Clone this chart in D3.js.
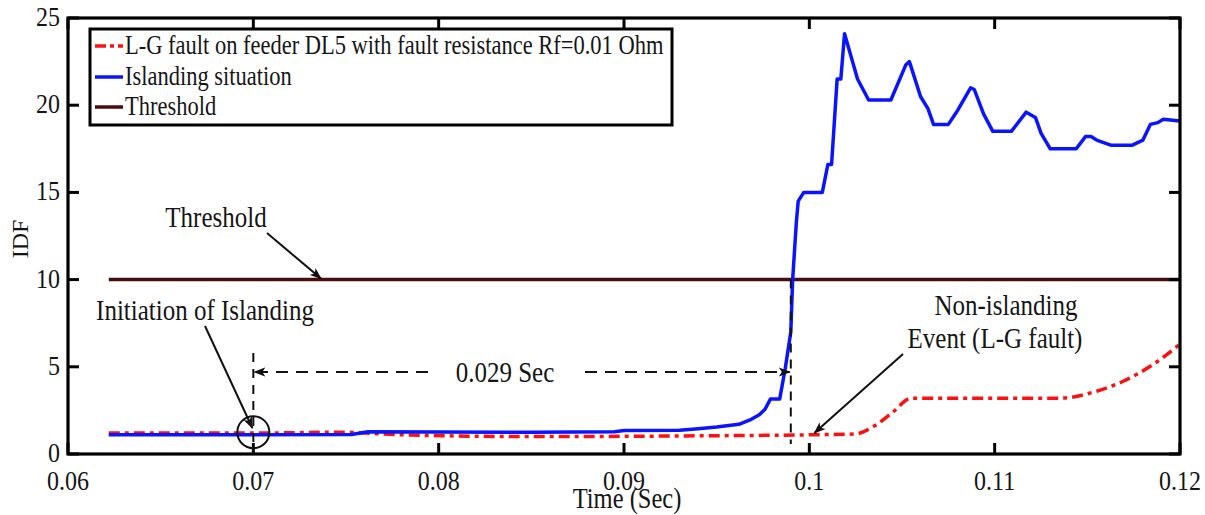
<!DOCTYPE html>
<html>
<head>
<meta charset="utf-8">
<script src="https://cdn.jsdelivr.net/npm/d3@7"></script>
<style>
  html, body { margin: 0; padding: 0; background: #fff; }
  svg { display: block; }
  text { font-family: "Liberation Serif", "Times New Roman", serif; fill: #151515; }
</style>
</head>
<body>
<svg id="chart" width="1205" height="515"></svg>
<script>
// Axis ticks
const xTicks = [0.06, 0.07, 0.08, 0.09, 0.10, 0.11, 0.12];
const xTickLabels = ["0.06", "0.07", "0.08", "0.09", "0.1", "0.11", "0.12"];
const yTicks = [0, 5, 10, 15, 20, 25];

// Islanding situation: IDF over time (s)
const islandTime = [0.0622, 0.0700, 0.0753, 0.0762, 0.0800, 0.0850, 0.0895, 0.0900, 0.0930, 0.0940,
  0.0950, 0.0962, 0.0968, 0.0973, 0.0976, 0.0979, 0.0984, 0.0987, 0.0990, 0.0991,
  0.0993, 0.0994, 0.0997, 0.1007, 0.1010, 0.1012, 0.1015, 0.1017, 0.1019, 0.1026,
  0.1032, 0.1044, 0.1052, 0.1054, 0.1060, 0.1064, 0.1067, 0.1075, 0.1080, 0.1087,
  0.1089, 0.1094, 0.1099, 0.1109, 0.1117, 0.1122, 0.1125, 0.1130, 0.1144, 0.1149,
  0.1152, 0.1155, 0.1163, 0.1174, 0.1180, 0.1184, 0.1188, 0.1191, 0.1200];
const islandIDF = [1.10, 1.10, 1.12, 1.28, 1.26, 1.25, 1.27, 1.35, 1.36, 1.45,
  1.55, 1.70, 1.95, 2.25, 2.55, 3.15, 3.15, 4.9, 7.0, 10.0,
  13.3, 14.5, 15.0, 15.0, 16.6, 16.6, 21.5, 21.5, 24.1, 21.5,
  20.3, 20.3, 22.3, 22.5, 20.5, 19.8, 18.9, 18.9, 19.7, 21.0,
  20.9, 19.5, 18.5, 18.5, 19.6, 19.3, 18.4, 17.5, 17.5, 18.2,
  18.2, 18.0, 17.7, 17.7, 18.0, 18.9, 19.0, 19.2, 19.1];

// L-G fault on feeder DL5 (Rf = 0.01 Ohm): IDF over time (s)
const faultTime = [0.0622, 0.0700, 0.0750, 0.0760, 0.0780, 0.0850, 0.0950, 0.1000, 0.1025,
  0.1035, 0.1045, 0.1055, 0.1100, 0.1135, 0.1155, 0.1170, 0.1185, 0.1200];
const faultIDF = [1.2, 1.2, 1.25, 1.2, 1.1, 1.0, 1.05, 1.1, 1.15,
  1.6, 2.4, 3.2, 3.2, 3.2, 3.6, 4.2, 5.1, 6.3];

// Detection threshold
const thresholdTime = [0.0622, 0.12];
const thresholdIDF = [10, 10];

const legendLabels = [
  "L-G fault on feeder DL5 with fault resistance Rf=0.01 Ohm",
  "Islanding situation",
  "Threshold"
];

// Event instants used by the annotations
const islandingStart = 0.07;
const islandingDetected = 0.099;

const svg = d3.select("#chart");
const plot = { left: 68, right: 1180, top: 18, bottom: 454 };

const x = d3.scaleLinear().domain([0.06, 0.12]).range([plot.left, plot.right]);
const y = d3.scaleLinear().domain([0, 25]).range([plot.bottom, plot.top]);

const TEXT_STRETCH = 1.17;
function label(parent, px, py, str, size, anchor) {
  return parent.append("text")
    .attr("transform", `translate(${px},${py}) scale(1,${TEXT_STRETCH})`)
    .attr("text-anchor", anchor || "start")
    .style("font-size", size + "px")
    .text(str);
}

// Arrow marker
const defs = svg.append("defs");
defs.append("marker")
  .attr("id", "arrow")
  .attr("viewBox", "0 0 12 10")
  .attr("refX", 11).attr("refY", 5)
  .attr("markerWidth", 12).attr("markerHeight", 10)
  .attr("markerUnits", "userSpaceOnUse")
  .attr("orient", "auto")
  .append("path")
  .attr("d", "M0,0.5 L12,5 L0,9.5 L3,5 Z")
  .attr("fill", "#111");

// Series
const line = d3.line().x(d => x(d[0])).y(d => y(d[1]));

svg.append("path")
  .datum(thresholdTime.map((t, i) => [t, thresholdIDF[i]]))
  .attr("d", line)
  .attr("fill", "none").attr("stroke", "#4a0c0c").attr("stroke-width", 3.5);

svg.append("path")
  .datum(faultTime.map((t, i) => [t, faultIDF[i]]))
  .attr("d", line.curve(d3.curveMonotoneX))
  .attr("fill", "none").attr("stroke", "#ff1010").attr("stroke-width", 3.5)
  .attr("stroke-dasharray", "11,5,4,5");

svg.append("path")
  .datum(islandTime.map((t, i) => [t, islandIDF[i]]))
  .attr("d", d3.line().x(d => x(d[0])).y(d => y(d[1])))
  .attr("fill", "none").attr("stroke", "#0a14ff").attr("stroke-width", 3.5)
  .attr("stroke-linejoin", "round");

// Frame and ticks (inward, mirrored on top/right)
const axisColor = "#000";
const tickLen = 11;
const frame = svg.append("g");
xTicks.forEach(t => {
  frame.append("line").attr("x1", x(t)).attr("x2", x(t))
    .attr("y1", plot.bottom).attr("y2", plot.bottom - tickLen)
    .attr("stroke", axisColor).attr("stroke-width", 3);
  frame.append("line").attr("x1", x(t)).attr("x2", x(t))
    .attr("y1", plot.top).attr("y2", plot.top + tickLen)
    .attr("stroke", axisColor).attr("stroke-width", 3);
});
yTicks.forEach(v => {
  frame.append("line").attr("x1", plot.left).attr("x2", plot.left + tickLen)
    .attr("y1", y(v)).attr("y2", y(v))
    .attr("stroke", axisColor).attr("stroke-width", 3);
  frame.append("line").attr("x1", plot.right).attr("x2", plot.right - tickLen)
    .attr("y1", y(v)).attr("y2", y(v))
    .attr("stroke", axisColor).attr("stroke-width", 3);
});
frame.append("rect")
  .attr("x", plot.left).attr("y", plot.top)
  .attr("width", plot.right - plot.left).attr("height", plot.bottom - plot.top)
  .attr("fill", "none").attr("stroke", axisColor).attr("stroke-width", 3.2);

// Tick labels
xTicks.forEach((t, i) => label(svg, x(t), 490, xTickLabels[i], 24, "middle"));
yTicks.forEach(v => label(svg, 60, y(v) + 8, String(v), 24, "end"));

// Axis titles
label(svg, 627, 508, "Time (Sec)", 24.5, "middle");
svg.append("text")
  .attr("transform", `translate(28,${(plot.top + plot.bottom) / 2 + 3}) rotate(-90)`)
  .attr("text-anchor", "middle")
  .style("font-size", "24px")
  .text("IDF");

// Legend
const legend = svg.append("g");
legend.append("rect")
  .attr("x", 90).attr("y", 29).attr("width", 582).attr("height", 96)
  .attr("fill", "#fff").attr("stroke", "#000").attr("stroke-width", 3);
const legendStyles = [
  { color: "#ff1010", dash: "11,4,4,4" },
  { color: "#0a14ff", dash: null },
  { color: "#4a0c0c", dash: null }
];
const legendRowsY = [46, 77, 107];
legendLabels.forEach((txt, i) => {
  const ly = legendRowsY[i];
  legend.append("line")
    .attr("x1", 95).attr("x2", 123).attr("y1", ly).attr("y2", ly)
    .attr("stroke", legendStyles[i].color).attr("stroke-width", 3.5)
    .attr("stroke-dasharray", legendStyles[i].dash);
  label(legend, 125, ly + 8, txt, 22.5, "start");
});

// Annotations
const ann = svg.append("g");

label(ann, 216, 227, "Threshold", 25, "middle");
ann.append("line")
  .attr("x1", 267).attr("y1", 233).attr("x2", x(0.07365)).attr("y2", y(10) - 1)
  .attr("stroke", "#111").attr("stroke-width", 2).attr("marker-end", "url(#arrow)");

label(ann, 205, 320, "Initiation of Islanding", 25, "middle");
ann.append("line")
  .attr("x1", 205).attr("y1", 326).attr("x2", x(islandingStart) - 1).attr("y2", 428)
  .attr("stroke", "#111").attr("stroke-width", 2).attr("marker-end", "url(#arrow)");
ann.append("circle")
  .attr("cx", x(islandingStart)).attr("cy", y(1.25)).attr("r", 16)
  .attr("fill", "none").attr("stroke", "#111").attr("stroke-width", 2);

// Detection-time dashed guides
ann.append("line")
  .attr("x1", x(islandingStart)).attr("x2", x(islandingStart))
  .attr("y1", 353).attr("y2", plot.bottom)
  .attr("stroke", "#111").attr("stroke-width", 2).attr("stroke-dasharray", "9,7");
ann.append("line")
  .attr("x1", x(islandingDetected)).attr("x2", x(islandingDetected))
  .attr("y1", y(10)).attr("y2", 444)
  .attr("stroke", "#111").attr("stroke-width", 2).attr("stroke-dasharray", "9,7");
ann.append("line")
  .attr("x1", 428).attr("x2", x(islandingStart) + 1)
  .attr("y1", 372).attr("y2", 372)
  .attr("stroke", "#111").attr("stroke-width", 2).attr("stroke-dasharray", "12,8")
  .attr("marker-end", "url(#arrow)");
ann.append("line")
  .attr("x1", 585).attr("x2", x(islandingDetected) - 1)
  .attr("y1", 372).attr("y2", 372)
  .attr("stroke", "#111").attr("stroke-width", 2).attr("stroke-dasharray", "12,8")
  .attr("marker-end", "url(#arrow)");
label(ann, 505, 382, (islandingDetected - islandingStart).toFixed(3) + " Sec", 25, "middle");

label(ann, 1006, 315, "Non-islanding", 25, "middle");
label(ann, 995, 348, "Event (L-G fault)", 25, "middle");
ann.append("line")
  .attr("x1", 903).attr("y1", 354).attr("x2", x(0.10027)).attr("y2", 433)
  .attr("stroke", "#111").attr("stroke-width", 2).attr("marker-end", "url(#arrow)");
</script>
</body>
</html>
